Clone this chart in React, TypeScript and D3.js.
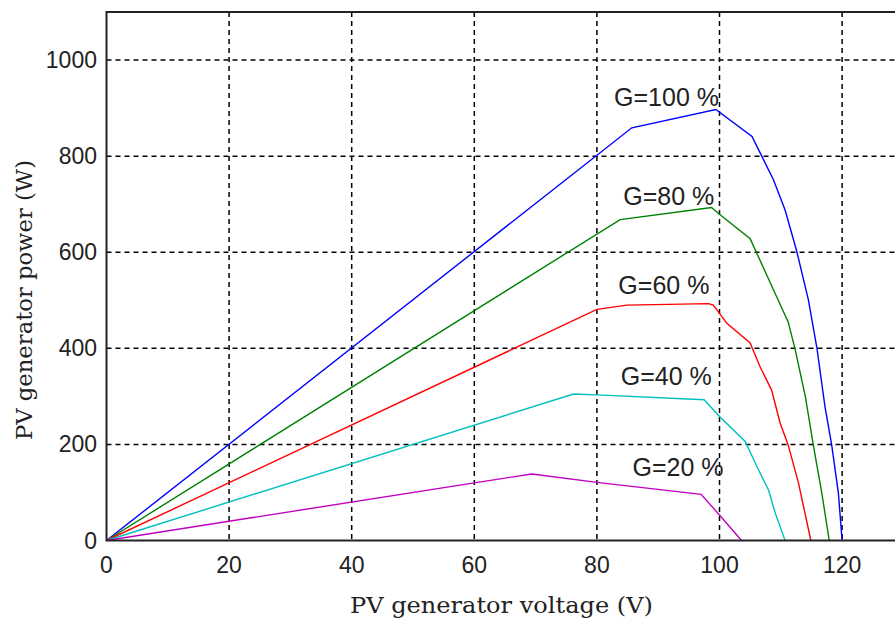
import React from "react";
import * as d3 from "d3";

const xTicks = [0, 20, 40, 60, 80, 100, 120];
const yTicks = [0, 200, 400, 600, 800, 1000];

const v100 = [0, 85.7, 99.4, 105.3, 108.8, 110.7, 112.6, 114.5, 115.9, 117.2, 118.3, 119.4, 120];
const p100 = [0, 859, 897, 841, 751, 688, 602, 501, 400, 279, 199, 98, 0];

const v80 = [0, 83.8, 98.7, 100.1, 105, 108.8, 111.2, 112.3, 114, 115.3, 116.7, 117.9];
const p80 = [0, 668, 693, 678, 628, 522, 455, 400, 300, 199, 98, 0];

const v60 = [0, 80, 84.9, 98.2, 99, 101.2, 105, 106.6, 108.5, 109.9, 111.2, 112.9, 114.9];
const p60 = [0, 481, 490, 493, 490, 452, 411, 362, 313, 244, 199, 119, 0];

const v40 = [0, 76.2, 80, 97.5, 100, 104.2, 106.1, 108, 109.1, 110.7];
const p40 = [0, 305, 303, 293, 258, 206, 154, 105, 57, 0];

const v20 = [0, 60, 69.4, 80, 97, 100, 103.6];
const p20 = [0, 120, 138.5, 121, 96, 53, 0];

const seriesNames = ["G=100 %", "G=80 %", "G=60 %", "G=40 %", "G=20 %"];
const seriesColors = ["#0000ff", "#008000", "#ff0000", "#00bfbf", "#bf00bf"];
const seriesV = [v100, v80, v60, v40, v20];
const seriesP = [p100, p80, p60, p40, p20];
// label anchors in data units (volts, watts)
const labelV = [82.8, 84.3, 83.5, 83.9, 85.8];
const labelP = [904, 698, 514, 324, 135];

const W = 895;
const H = 626;
const left = 106.5;
const top = 12;
const bottom = 540.5;
const right = 903.4;

export default function App() {
  const x = d3.scaleLinear().domain([0, 130]).range([left, right]);
  const y = d3.scaleLinear().domain([0, 1100]).range([bottom, top]);
  const line = d3
    .line<[number, number]>()
    .x((d) => x(d[0]))
    .y((d) => y(d[1]));

  return (
    <svg
      width={W}
      height={H}
      style={{ position: "absolute", left: 0, top: 0, background: "#fff" }}
    >
      <rect x={0} y={0} width={W} height={H} fill="#fff" />
      {xTicks.slice(1).map((t) => (
        <line
          key={"gx" + t}
          x1={x(t)}
          x2={x(t)}
          y1={top}
          y2={bottom}
          stroke="#000"
          strokeWidth={1.5}
          strokeDasharray="5,4"
        />
      ))}
      {yTicks.slice(1).map((t) => (
        <line
          key={"gy" + t}
          x1={left}
          x2={right}
          y1={y(t)}
          y2={y(t)}
          stroke="#000"
          strokeWidth={1.5}
          strokeDasharray="5,4"
        />
      ))}
      {seriesV.map((vs, i) => (
        <path
          key={"s" + i}
          d={line(vs.map((v, j) => [v, seriesP[i][j]] as [number, number])) || ""}
          fill="none"
          stroke={seriesColors[i]}
          strokeWidth={1.4}
        />
      ))}
      <rect
        x={left}
        y={top}
        width={right - left}
        height={bottom - top}
        fill="none"
        stroke="#222"
        strokeWidth={2}
      />
      {xTicks.map((t) => (
        <text
          key={"tx" + t}
          x={x(t)}
          y={573}
          textAnchor="middle"
          fontFamily="Liberation Sans, Arial, sans-serif"
          fontSize={23}
          fill="#222"
        >
          {t}
        </text>
      ))}
      {yTicks.map((t) => (
        <text
          key={"ty" + t}
          x={97}
          y={y(t) + 8}
          textAnchor="end"
          fontFamily="Liberation Sans, Arial, sans-serif"
          fontSize={23}
          fill="#222"
        >
          {t}
        </text>
      ))}
      {seriesNames.map((n, i) => (
        <text
          key={"l" + i}
          x={x(labelV[i])}
          y={y(labelP[i])}
          fontFamily="Liberation Sans, Arial, sans-serif"
          fontSize={25}
          fill="#222"
        >
          {n}
        </text>
      ))}
      <text
        x={501.5}
        y={613}
        textAnchor="middle"
        fontFamily="DejaVu Serif, serif"
        fontSize={23}
        textLength={303}
        lengthAdjust="spacingAndGlyphs"
        fill="#222"
      >
        PV generator voltage (V)
      </text>
      <text
        transform="translate(32,300) rotate(-90)"
        textAnchor="middle"
        fontFamily="DejaVu Serif, serif"
        fontSize={23}
        textLength={280}
        lengthAdjust="spacingAndGlyphs"
        fill="#222"
      >
        PV generator power (W)
      </text>
    </svg>
  );
}
